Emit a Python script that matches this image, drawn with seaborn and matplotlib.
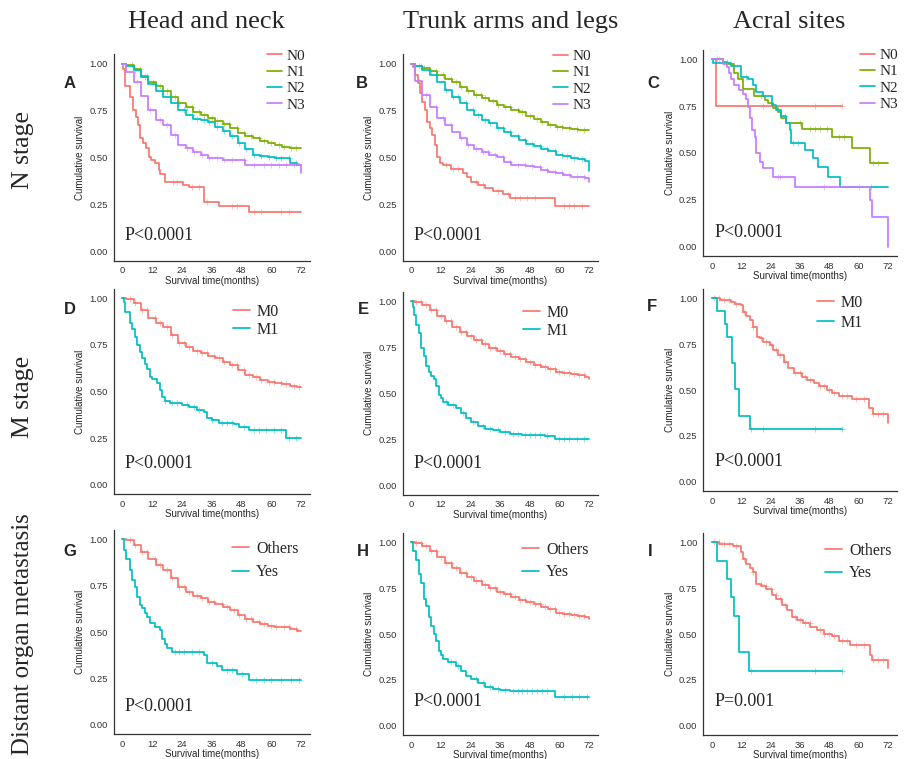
import numpy as np
import pandas as pd
import matplotlib
matplotlib.use('Agg')
import matplotlib.pyplot as plt
import seaborn as sns

sns.set_style('white')
plt.rcParams['font.family'] = ['Liberation Sans', 'DejaVu Sans']

# ---------------- data ----------------
months = [0, 3, 6, 9, 12, 15, 18, 21, 24, 27, 30, 33, 36, 39, 42, 45, 48, 51, 54, 57, 60, 63, 66, 69, 72]
col_titles = ['Head and neck', 'Trunk arms and legs', 'Acral sites']
row_titles = ['N stage', 'M stage', 'Distant organ metastasis']
n_labels = ['N0', 'N1', 'N2', 'N3']
m_labels = ['M0', 'M1']
d_labels = ['Others', 'Yes']
p_values = ['P<0.0001', 'P<0.0001', 'P<0.0001',
            'P<0.0001', 'P<0.0001', 'P<0.0001',
            'P<0.0001', 'P<0.0001', 'P=0.001']

# A: head and neck, N stage
a_n0_t = [0, 0.3, 1.2, 3.2, 4.3, 5.4, 6.2, 7.2, 8.3, 9.7, 10.6, 11.5, 13, 14.6, 15.3, 17.3, 24.4, 26.7, 33, 39.1, 51.2, 72]
a_n0_s = [1.0, 0.97, 0.88, 0.824, 0.753, 0.717, 0.673, 0.602, 0.575, 0.549, 0.504, 0.487, 0.469, 0.433, 0.41, 0.371, 0.353, 0.341, 0.265, 0.243, 0.208, 0.208]
a_n1 = [1.0, 0.993, 0.97, 0.934, 0.904, 0.881, 0.856, 0.824, 0.792, 0.771, 0.744, 0.726, 0.709, 0.696, 0.678, 0.655, 0.629, 0.615, 0.602, 0.59, 0.575, 0.567, 0.558, 0.552, 0.552]
a_n2 = [1.0, 0.99, 0.965, 0.93, 0.89, 0.855, 0.82, 0.79, 0.755, 0.725, 0.705, 0.70, 0.69, 0.665, 0.64, 0.615, 0.575, 0.545, 0.515, 0.51, 0.505, 0.50, 0.495, 0.47, 0.46]
a_n3 = [1.0, 0.955, 0.904, 0.83, 0.753, 0.70, 0.673, 0.62, 0.567, 0.549, 0.531, 0.513, 0.50, 0.496, 0.487, 0.487, 0.487, 0.46, 0.46, 0.46, 0.46, 0.46, 0.46, 0.46, 0.46]
a_n3_end = 0.415
a_n0_c = [20.5, 22, 28, 31, 34, 44, 46, 53, 56, 64, 67]
a_n1_c = [4, 7, 10, 12.5, 15, 18, 21, 23, 26, 28, 31, 33, 36, 38, 41, 43, 46, 49, 52, 55, 57, 60, 63, 65, 68, 70]
a_n2_c = [5, 9, 13, 16, 19, 22, 25, 28, 30, 33, 35, 38, 41, 44, 47, 50, 53, 56, 59, 62, 64, 67, 70]
a_n3_c = [6, 11, 15, 18, 21, 26, 29, 32, 35, 38, 41, 44, 49, 53, 57, 60, 63, 66, 69]

# B: trunk arms and legs, N stage
b_n0_t = [0, 0.5, 1.5, 2.5, 3.5, 4.5, 5.5, 6.5, 7.5, 8.5, 9.5, 10.5, 11.5, 13, 16, 21, 22.5, 24, 27, 30, 33, 37, 40, 58, 72]
b_n0_s = [1.0, 0.98, 0.94, 0.895, 0.842, 0.797, 0.753, 0.691, 0.655, 0.62, 0.567, 0.504, 0.469, 0.46, 0.437, 0.416, 0.398, 0.371, 0.353, 0.336, 0.321, 0.305, 0.282, 0.242, 0.242]
b_n1 = [1.0, 0.99, 0.975, 0.96, 0.94, 0.92, 0.90, 0.875, 0.855, 0.835, 0.815, 0.80, 0.78, 0.77, 0.755, 0.74, 0.72, 0.705, 0.69, 0.675, 0.66, 0.655, 0.65, 0.648, 0.645]
b_n2 = [1.0, 0.985, 0.965, 0.94, 0.90, 0.86, 0.82, 0.79, 0.755, 0.725, 0.70, 0.685, 0.655, 0.635, 0.615, 0.595, 0.57, 0.56, 0.545, 0.535, 0.515, 0.51, 0.50, 0.49, 0.48]
b_n2_end = 0.43
b_n3 = [1.0, 0.91, 0.833, 0.77, 0.709, 0.673, 0.638, 0.602, 0.567, 0.544, 0.531, 0.513, 0.504, 0.478, 0.462, 0.46, 0.455, 0.45, 0.435, 0.425, 0.415, 0.405, 0.395, 0.395, 0.39]
b_n3_end = 0.37
b_n0_c = [14, 17, 19, 26, 29, 35, 39, 42, 44, 47, 50, 62, 64, 66, 69]
b_n1_c = [3, 5, 8, 10, 13, 16, 18, 20, 23, 26, 28, 30, 33, 35, 38, 40, 43, 45, 48, 51, 53, 56, 59, 61, 64, 67, 70]
b_n2_c = [4, 7, 10, 14, 17, 19, 22, 25, 27, 30, 32, 35, 37, 40, 43, 46, 49, 52, 55, 58, 61, 63, 66, 69]
b_n3_c = [3, 6, 10, 13, 16, 20, 23, 26, 29, 31, 34, 37, 40, 43, 46, 49, 52, 55, 58, 61, 64, 67, 70]

# C: acral sites, N stage
c_n0_t = [0, 1.9, 53]
c_n0_s = [1.0, 0.75, 0.75]
c_n1_t = [0, 4.6, 6.3, 9, 10.7, 12.8, 17.3, 21.6, 23, 25, 27, 28.1, 30.4, 36.8, 49.2, 57.3, 64.4, 72]
c_n1_s = [1.0, 0.988, 0.975, 0.925, 0.893, 0.84, 0.804, 0.783, 0.765, 0.738, 0.72, 0.685, 0.658, 0.626, 0.587, 0.525, 0.448, 0.448]
c_n2_t = [0, 0.5, 8, 12.1, 14.8, 16.8, 18.2, 20.9, 24.7, 26.4, 28.4, 30.4, 31.8, 32.5, 37.9, 41.3, 43.3, 47.4, 52.2, 72]
c_n2_s = [1.0, 0.979, 0.964, 0.907, 0.893, 0.863, 0.827, 0.804, 0.756, 0.73, 0.698, 0.658, 0.623, 0.552, 0.516, 0.472, 0.427, 0.37, 0.32, 0.32]
c_n3_t = [0, 4.6, 6.3, 7.1, 8, 9.1, 11, 12.8, 13.9, 14.8, 15.5, 16.4, 17.5, 18.2, 19.8, 20.9, 25, 34.1, 64.4, 65.4, 72, 72]
c_n3_s = [1.0, 0.975, 0.96, 0.925, 0.893, 0.863, 0.836, 0.815, 0.79, 0.747, 0.685, 0.623, 0.584, 0.498, 0.454, 0.418, 0.374, 0.32, 0.249, 0.16, 0.16, 0.0]
c_n0_c = [21, 42, 53]
c_n1_c = [2, 6, 20, 36, 40, 42, 44, 47, 52, 54, 66, 68]
c_n2_c = [14, 30, 33, 35, 65]
c_n3_c = [3, 27, 28, 46, 60]

# D: head and neck, M stage
d_m0 = [1.0, 0.996, 0.973, 0.937, 0.893, 0.866, 0.844, 0.803, 0.758, 0.741, 0.719, 0.708, 0.69, 0.678, 0.66, 0.642, 0.615, 0.589, 0.576, 0.562, 0.553, 0.544, 0.538, 0.53, 0.526]
d_m1_t = [0, 0.5, 1, 3, 4, 5, 6, 7, 8, 9, 10, 11, 12, 14, 15, 16, 17, 19, 24, 27, 30, 33, 34, 36, 39, 45, 47, 51, 66, 72]
d_m1_s = [1.0, 0.98, 0.928, 0.869, 0.834, 0.794, 0.75, 0.714, 0.678, 0.648, 0.619, 0.58, 0.565, 0.547, 0.508, 0.472, 0.451, 0.436, 0.428, 0.415, 0.401, 0.392, 0.356, 0.347, 0.329, 0.326, 0.311, 0.293, 0.249, 0.249]
d_m0_c = [3, 5, 8, 10, 13, 15, 18, 20, 23, 25, 27, 30, 32, 34, 37, 39, 41, 44, 46, 49, 51, 54, 56, 59, 61, 64, 66, 69, 71]
d_m1_c = [17, 20, 22, 26, 29, 31, 36, 40, 42, 44, 49, 53, 55, 58, 61, 64, 67, 70]

# E: trunk arms and legs, M stage
e_m0 = [1.0, 0.993, 0.98, 0.953, 0.92, 0.895, 0.862, 0.835, 0.812, 0.79, 0.768, 0.748, 0.73, 0.714, 0.699, 0.685, 0.668, 0.654, 0.641, 0.63, 0.614, 0.609, 0.605, 0.60, 0.59]
e_m0_end = 0.58
e_m1_t = [0, 0.5, 1, 2, 3, 4, 5, 6, 7, 8, 9, 10, 11, 12, 13, 15, 18, 20, 22, 24, 27, 30, 33, 36, 40, 45, 54, 58, 72]
e_m1_s = [1.0, 0.971, 0.926, 0.871, 0.826, 0.745, 0.703, 0.649, 0.618, 0.591, 0.576, 0.54, 0.491, 0.473, 0.455, 0.437, 0.418, 0.391, 0.364, 0.346, 0.324, 0.304, 0.301, 0.292, 0.279, 0.274, 0.27, 0.252, 0.252]
e_m0_c = [2, 4, 6, 8, 10, 12, 14, 16, 18, 20, 22, 24, 26, 28, 30, 32, 34, 36, 38, 40, 42, 44, 46, 48, 50, 52, 54, 56, 58, 60, 62, 64, 66, 68, 70]
e_m1_c = [14, 17, 21, 25, 29, 32, 35, 38, 41, 43, 46, 48, 50, 52, 55, 60, 62, 64, 67, 70]

# F: acral sites, M stage
f_m0_t = [0, 3.2, 8, 9.3, 12.1, 12.8, 14.1, 15.5, 16.9, 18.3, 19.6, 21, 23.8, 25.1, 27.2, 29.3, 31.3, 33.4, 36.8, 38.9, 41.6, 43.7, 47.1, 49.2, 51.9, 57.4, 64.3, 65.7, 72, 72]
f_m0_s = [1.0, 0.989, 0.98, 0.967, 0.962, 0.926, 0.902, 0.88, 0.844, 0.79, 0.781, 0.763, 0.745, 0.717, 0.69, 0.654, 0.618, 0.591, 0.572, 0.554, 0.536, 0.522, 0.50, 0.486, 0.467, 0.449, 0.40, 0.37, 0.37, 0.322]
f_m1_t = [0, 2.1, 5.5, 6.2, 8.4, 9.3, 11.1, 15.5, 53.3]
f_m1_s = [1.0, 0.928, 0.857, 0.786, 0.645, 0.504, 0.359, 0.286, 0.286]
f_m0_c = [1, 3, 5, 7, 10, 13, 17, 20, 22, 24, 26, 28, 30, 34, 36, 38, 40, 44, 46, 48, 50, 53, 55, 59, 62, 66, 68, 70]
f_m1_c = [16, 21, 42, 53]

# G: head and neck, distant organ metastasis
g_oth = [1.0, 0.995, 0.968, 0.932, 0.891, 0.86, 0.833, 0.789, 0.744, 0.717, 0.694, 0.685, 0.663, 0.651, 0.633, 0.618, 0.591, 0.568, 0.556, 0.543, 0.532, 0.529, 0.525, 0.514, 0.505]
g_yes_t = [0, 0.5, 1.5, 3, 4, 5, 6, 7, 8, 9, 10, 11, 13, 15, 16, 17, 18, 20, 33, 34, 38, 40, 46, 51, 72]
g_yes_s = [1.0, 0.944, 0.891, 0.833, 0.783, 0.744, 0.69, 0.645, 0.627, 0.604, 0.582, 0.547, 0.529, 0.511, 0.461, 0.435, 0.412, 0.394, 0.376, 0.332, 0.314, 0.296, 0.274, 0.242, 0.242]
g_oth_c = [3, 5, 8, 10, 13, 15, 18, 20, 23, 25, 27, 30, 32, 35, 37, 40, 42, 45, 47, 50, 52, 55, 57, 60, 62, 65, 67, 70]
g_yes_c = [21, 23, 25, 28, 31, 36, 42, 44, 48, 54, 57, 60, 64, 68, 71]

# H: trunk arms and legs, distant organ metastasis
h_oth = [1.0, 0.996, 0.978, 0.951, 0.92, 0.888, 0.857, 0.834, 0.81, 0.788, 0.767, 0.749, 0.731, 0.716, 0.702, 0.687, 0.675, 0.662, 0.649, 0.635, 0.617, 0.608, 0.604, 0.599, 0.59]
h_oth_end = 0.58
h_yes_t = [0, 0.5, 2, 3, 4, 5, 6, 7, 8, 9, 10, 11, 12, 13, 15, 18, 20, 22, 24, 27, 30, 33, 36, 40, 58, 72]
h_yes_s = [1.0, 0.951, 0.901, 0.825, 0.776, 0.689, 0.653, 0.59, 0.544, 0.499, 0.463, 0.409, 0.387, 0.363, 0.345, 0.324, 0.30, 0.273, 0.255, 0.233, 0.21, 0.201, 0.195, 0.188, 0.156, 0.156]
h_oth_c = [2, 4, 6, 8, 10, 12, 14, 16, 18, 20, 22, 24, 26, 28, 30, 32, 34, 36, 38, 40, 42, 44, 46, 48, 50, 52, 54, 56, 58, 60, 62, 64, 66, 68, 70]
h_yes_c = [16, 19, 26, 29, 32, 35, 38, 41, 43, 45, 47, 49, 51, 53, 55, 62, 65, 68, 71]

# I: acral sites, distant organ metastasis
i_oth_t = [0, 3.1, 8.6, 11.8, 12.7, 14.1, 15.5, 16.8, 18.2, 20.2, 22.3, 24.4, 26.4, 28.5, 30.5, 32.6, 34.6, 37.3, 40.1, 42.8, 45.6, 49, 51.8, 56.5, 64.7, 65.4, 72, 72]
i_oth_s = [1.0, 0.991, 0.978, 0.948, 0.906, 0.883, 0.862, 0.835, 0.775, 0.763, 0.745, 0.714, 0.691, 0.66, 0.628, 0.592, 0.574, 0.559, 0.538, 0.52, 0.502, 0.487, 0.462, 0.442, 0.385, 0.358, 0.358, 0.313]
i_yes_t = [0, 2, 6, 7.9, 9.2, 11.1, 15.2, 53.1]
i_yes_s = [1.0, 0.90, 0.80, 0.70, 0.60, 0.40, 0.30, 0.30]
i_oth_c = [1, 3, 5, 7, 10, 13, 17, 20, 22, 24, 26, 28, 30, 34, 36, 38, 40, 44, 46, 48, 50, 53, 55, 59, 62, 66, 68, 70]
i_yes_c = [16, 42, 53]


def grid_steps(vals, end=None):
    # values read on the 3-month grid -> step function changing half-way between grid points
    t = [0] + [m - 1.5 for m in months[1:]] + [72]
    s = list(vals) + [vals[-1]]
    if end is not None:
        t.append(72)
        s.append(end)
    return t, s


pal4 = ['#F8766D', '#7CAE00', '#00BFC4', '#C77CFF']
pal2 = ['#F8766D', '#00BFC4']

panels = [
    ('A', [(a_n0_t, a_n0_s, a_n0_c), grid_steps(a_n1) + (a_n1_c,), grid_steps(a_n2) + (a_n2_c,),
           grid_steps(a_n3, a_n3_end) + (a_n3_c,)], n_labels, pal4),
    ('B', [(b_n0_t, b_n0_s, b_n0_c), grid_steps(b_n1) + (b_n1_c,), grid_steps(b_n2, b_n2_end) + (b_n2_c,),
           grid_steps(b_n3, b_n3_end) + (b_n3_c,)], n_labels, pal4),
    ('C', [(c_n0_t, c_n0_s, c_n0_c), (c_n1_t, c_n1_s, c_n1_c), (c_n2_t, c_n2_s, c_n2_c),
           (c_n3_t, c_n3_s, c_n3_c)], n_labels, pal4),
    ('D', [grid_steps(d_m0) + (d_m0_c,), (d_m1_t, d_m1_s, d_m1_c)], m_labels, pal2),
    ('E', [grid_steps(e_m0, e_m0_end) + (e_m0_c,), (e_m1_t, e_m1_s, e_m1_c)], m_labels, pal2),
    ('F', [(f_m0_t, f_m0_s, f_m0_c), (f_m1_t, f_m1_s, f_m1_c)], m_labels, pal2),
    ('G', [grid_steps(g_oth) + (g_oth_c,), (g_yes_t, g_yes_s, g_yes_c)], d_labels, pal2),
    ('H', [grid_steps(h_oth, h_oth_end) + (h_oth_c,), (h_yes_t, h_yes_s, h_yes_c)], d_labels, pal2),
    ('I', [(i_oth_t, i_oth_s, i_oth_c), (i_yes_t, i_yes_s, i_yes_c)], d_labels, pal2),
]

# ---------------- layout (pixels of a 910x759 canvas) ----------------
W, H = 910, 759
col_left = [113.5, 402.5, 703]
col_right = [310, 598, 897]
panel_tb = [(54.3, 260.7), (54.3, 260.7), (50, 256),
            (289, 494), (292, 494.5), (289, 491),
            (530, 734), (533, 735), (533, 735)]
letter_xy = [(70, 83), (362, 83), (653, 83), (70, 309), (363, 310), (652, 307),
             (70, 551), (363, 552), (650, 551)]
legend_xy = [(267, 49), (553, 49.5), (860, 48.5), (233, 304), (523, 305), (817, 295),
             (232, 541), (522, 542), (825, 543)]
legend_sp = [0.17, 0.17, 0.17, 0.12, 0.1, 0.25, 0.45, 0.4, 0.4]
p_y = [0.085, 0.085, 0.075, 0.115, 0.12, 0.11, 0.10, 0.13, 0.13]
serif = ['Liberation Serif', 'DejaVu Serif']

fig = plt.figure(figsize=(W / 100, H / 100), dpi=100)

for k, (letter, curves, labels, pal) in enumerate(panels):
    r, c = divmod(k, 3)
    top, bot = panel_tb[k]
    ax = fig.add_axes([col_left[c] / W, 1 - bot / H, (col_right[c] - col_left[c]) / W, (bot - top) / H])

    for (t, s, cens), lab, col in zip(curves, labels, pal):
        df = pd.DataFrame({'time': t, 'surv': s})
        sns.lineplot(data=df, x='time', y='surv', drawstyle='steps-post', color=col, label=lab,
                     lw=1.25, estimator=None, sort=False, ax=ax)
        # censor marks on the curve
        idx = np.searchsorted(np.array(t), cens, side='right') - 1
        ax.plot(cens, np.array(s)[idx], ls='none', marker='+', ms=4, mew=0.7, color=col, alpha=0.45)

    ax.set_xlim(-3.6, 75.6)
    ax.set_ylim(-0.05, 1.05)
    ax.set_xticks(months[::4])
    ax.set_yticks([0, 0.25, 0.5, 0.75, 1.0])
    ax.set_yticklabels(['0.00', '0.25', '0.50', '0.75', '1.00'])
    ax.tick_params(labelsize=6.8, length=2.5, width=0.6, colors='#333333', labelcolor='#333333', pad=1.5)
    for side in ['top', 'right']:
        ax.spines[side].set_visible(False)
    for side in ['left', 'bottom']:
        ax.spines[side].set_color('#333333')
        ax.spines[side].set_linewidth(0.9)
    ax.set_xlabel('Survival time(months)', fontsize=7, labelpad=0.5)
    ax.set_ylabel('Cumulative survival', fontsize=7, labelpad=3)

    ax.text(1, p_y[k], p_values[k], fontsize=13, family=serif, va='center', ha='left')

    fs = 11 if r == 0 else 11.5
    lx, ly = legend_xy[k]
    ax.legend(loc='upper left', bbox_to_anchor=(lx / W, 1 - ly / H), bbox_transform=fig.transFigure,
              frameon=False, prop={'family': serif, 'size': fs}, handlelength=1.0 if r == 0 else 1.05,
              handletextpad=0.28 if r == 0 else 0.45, labelspacing=legend_sp[k],
              borderpad=0, borderaxespad=0)

    fig.text(letter_xy[k][0] / W, 1 - letter_xy[k][1] / H, letter, fontsize=12, fontweight='bold',
             ha='center', va='center')

# column and row titles
for c, title in enumerate(col_titles):
    fig.text([206, 511, 789][c] / W, 1 - 22 / H, title, fontsize=19, family=serif, ha='center', va='center')
for r, title in enumerate(row_titles):
    fig.text(23 / W, 1 - [150, 397, 634][r] / H, title, fontsize=18.5 if r < 2 else 17.8, family=serif,
             rotation=90, ha='center', va='center')

fig.savefig('out.png', dpi=100)
